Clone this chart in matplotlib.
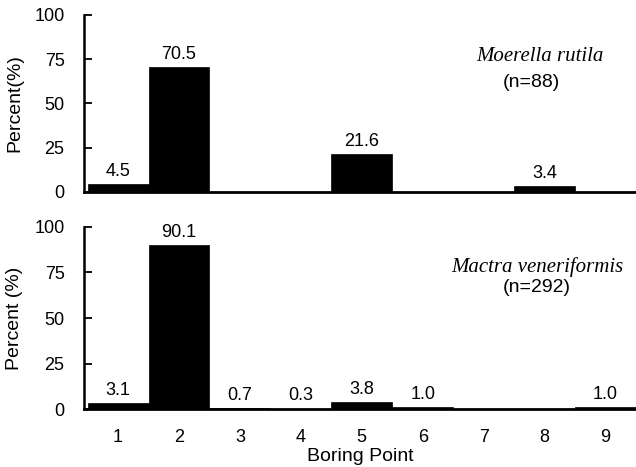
import matplotlib
matplotlib.use("Agg")
import matplotlib.pyplot as plt

points = [1, 2, 3, 4, 5, 6, 7, 8, 9]
moerella = [4.5, 70.5, 0, 0, 21.6, 0, 0, 3.4, 0]
moerella_labels = ["4.5", "70.5", "", "", "21.6", "", "", "3.4", ""]
mactra = [3.1, 90.1, 0.7, 0.3, 3.8, 1.0, 0, 0, 1.0]
mactra_labels = ["3.1", "90.1", "0.7", "0.3", "3.8", "1.0", "", "", "1.0"]
yticks = [0, 25, 50, 75, 100]

plt.rcParams['font.family'] = ['Liberation Sans', 'DejaVu Sans']

fig = plt.figure(figsize=(6.36, 4.67), dpi=100)
ax1 = fig.add_axes([0.132, 0.589, 0.868, 0.379])
ax2 = fig.add_axes([0.132, 0.124, 0.868, 0.390])

panels = [
    (ax1, moerella, moerella_labels, "Percent(%)", "Moerella rutila", "(n=88)", (0.826, 0.763), (0.81, 0.621)),
    (ax2, mactra, mactra_labels, "Percent (%)", "Mactra veneriformis", "(n=292)", (0.821, 0.78), (0.82, 0.665)),
]

for ax, vals, labs, ylab, species, n, sp_pos, n_pos in panels:
    bars = ax.bar(points, vals, width=1.0, color='black', edgecolor='black', linewidth=0.5)
    for b, v, l in zip(bars, vals, labs):
        if l:
            ax.annotate(l, (b.get_x() + b.get_width() / 2, v), xytext=(0, 3),
                        textcoords='offset points', ha='center', va='bottom', fontsize=13)
    ax.set_xlim(0.44, 9.5)
    ax.set_ylim(0, 100)
    ax.set_yticks(yticks)
    ax.tick_params(axis='y', direction='in', length=6, width=1.3, pad=14, labelsize=13)
    ax.spines['top'].set_visible(False)
    ax.spines['right'].set_visible(False)
    ax.spines['left'].set_linewidth(1.8)
    ax.spines['bottom'].set_linewidth(2.0)
    ax.set_ylabel(ylab, fontsize=14, labelpad=8)
    ax.text(sp_pos[0], sp_pos[1], species, transform=ax.transAxes, ha='center', va='center',
            fontsize=15, style='italic', family=['Liberation Serif', 'DejaVu Serif'])
    ax.text(n_pos[0], n_pos[1], n, transform=ax.transAxes, ha='center', va='center', fontsize=14)

ax1.set_xticks([])
ax2.set_xticks(points)
ax2.tick_params(axis='x', length=0, pad=14, labelsize=13)
ax2.set_xlabel("Boring Point", fontsize=14, labelpad=2)

fig.savefig("out.png", dpi=100)
